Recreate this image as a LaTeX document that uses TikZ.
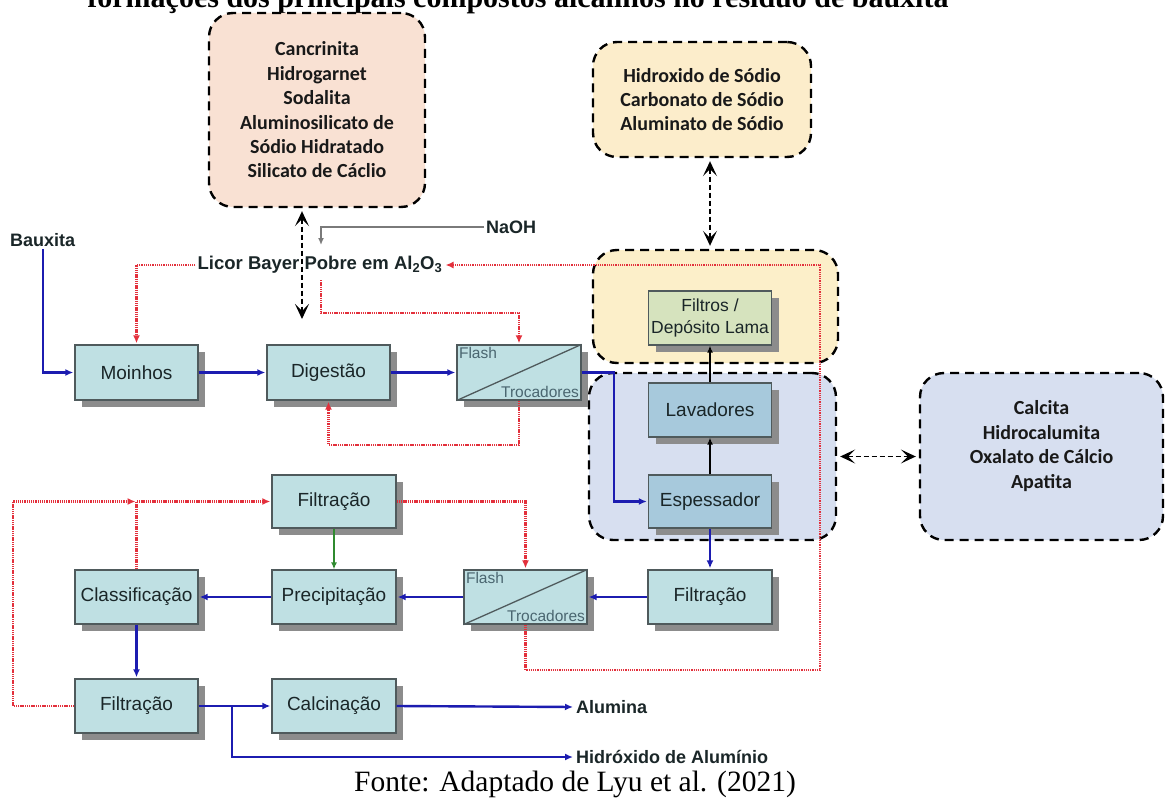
\documentclass[tikz,border=0pt]{standalone}
\usepackage{fontspec}
\setmainfont{Liberation Sans}
\newfontfamily\calib{Carlito}
\newfontfamily\timesf{Liberation Serif}
\usetikzlibrary{arrows.meta,shadows}
\definecolor{boxfill}{HTML}{BFE0E3}
\definecolor{boxline}{HTML}{4F5A5C}
\definecolor{shadowc}{HTML}{8C8C8C}
\definecolor{washfill}{HTML}{A7C9DC}
\definecolor{filtfill}{HTML}{D6E3BE}
\definecolor{flowblue}{HTML}{1C1CB0}
\definecolor{recycred}{HTML}{E3303C}
\definecolor{peach}{HTML}{F9E1D3}
\definecolor{cream}{HTML}{FCEDCB}
\definecolor{lightyel}{HTML}{FCEFC9}
\definecolor{lightblu}{HTML}{D7DFF0}
\definecolor{grn}{HTML}{2F8A2F}
\definecolor{naohgray}{HTML}{7A7A7A}
\definecolor{labtext}{HTML}{1A2628}
\definecolor{flashtext}{HTML}{4A6670}
\tikzset{
  proc/.style={draw=boxline, line width=1.3pt, fill=boxfill, minimum width=123pt,
    minimum height=55pt, inner sep=0pt, text=labtext, font=\fontsize{19}{22}\selectfont,
    drop shadow={shadow xshift=7pt, shadow yshift=-7pt, fill=shadowc, opacity=1}},
  group/.style={draw=black, line width=2.4pt, dash pattern=on 9pt off 6pt, rounded corners=24pt, inner sep=0pt},
  mineral/.style={align=center, text=black!90, font=\calib\bfseries\fontsize{20}{24.4}\selectfont},
  flow/.style={draw=flowblue, line width=2.4pt, -{Latex[length=8pt,width=7pt]}, shorten >=1pt},
  blackflow/.style={draw=black, line width=2pt, -{Latex[length=7pt,width=6pt]}},
  rec/.style={draw=recycred, line width=2.1pt, dash pattern=on 1.3pt off 0.9pt, -{Latex[length=8pt,width=7pt]}, shorten >=1pt},
  exch/.style={draw=black, line width=1.2pt, dash pattern=on 5pt off 3pt,
    {Stealth[length=15pt,width=14pt,inset=7pt]}-{Stealth[length=15pt,width=14pt,inset=7pt]}, shorten <=3pt, shorten >=3pt},
  lbl/.style={font=\bfseries\fontsize{18}{21}\selectfont, text=labtext, inner sep=2pt},
  flashlbl/.style={font=\fontsize{15.5}{17}\selectfont, text=flashtext, inner sep=2.5pt}
}
\begin{document}
\begin{tikzpicture}[x=1pt,y=-1pt]
\useasboundingbox (0,0) rectangle (1167,800);
\fill[white] (0,0) rectangle (1167,800);
% title (cut at top, as in the reference)
\begin{scope}
\clip (0,0) rectangle (1167,800);
\node[anchor=base, inner sep=0pt, font=\timesf\bfseries\fontsize{30}{33}\selectfont] (title) at (518,8)
  {formações dos principais compostos alcalinos no resíduo de bauxita};
\end{scope}
% group containers
\node[group, fill=peach, minimum width=216pt, minimum height=194pt, mineral] (cancr) at (317,110)
  {Cancrinita\\Hidrogarnet\\Sodalita\\Aluminosilicato de\\Sódio Hidratado\\Silicato de Cáclio};
\node[group, fill=cream, minimum width=218pt, minimum height=115pt, mineral] (hidrox) at (702,99.5)
  {Hidroxido de Sódio\\Carbonato de Sódio\\Aluminato de Sódio};
\node[group, fill=lightblu, minimum width=243pt, minimum height=167pt] (calcbox) at (1041.5,456.5) {};
\node[mineral] (calctxt) at (1041.5,446) {Calcita\\Hidrocalumita\\Oxalato de Cálcio\\Apatita};
\node[group, fill=lightyel, minimum width=245pt, minimum height=113pt] (yel) at (715.5,306.5) {};
\node[group, fill=lightblu, minimum width=247pt, minimum height=167pt] (blu) at (712.5,456.5) {};
% text labels
\node[lbl, anchor=west] (baux) at (8,240) {Bauxita};
\node[lbl, anchor=west] (naoh) at (484,227) {NaOH};
\node[lbl, font=\bfseries\fontsize{18.5}{21}\selectfont] (licor) at (320,265) {Licor Bayer Pobre em Al\textsubscript{2}O\textsubscript{3}};
\node[lbl, anchor=west] (alum) at (574,707) {Alumina};
\node[lbl, anchor=west] (hid) at (574,757) {Hidróxido de Alumínio};
\node[anchor=base, inner sep=0pt, font=\timesf\fontsize{29.5}{32}\selectfont] (fonte) at (575,791)
  {Fonte: Adaptado de Lyu et al. (2021)};
% process boxes
\node[proc] (moinhos) at (136.5,372.5) {Moinhos};
\node[proc] (digest) at (328.5,372.5) {Digestão};
\node[proc, minimum width=124pt] (f1) at (519,372.5) {};
\node[proc, fill=filtfill, minimum height=54pt, align=center, font=\fontsize{17.5}{22}\selectfont] (filtros) at (710,318) {Filtros /\\Depósito Lama};
\node[proc, fill=washfill, minimum height=54pt] (lavad) at (710,410) {Lavadores};
\node[proc, fill=washfill, minimum height=53pt] (espess) at (710,501.5) {Espessador};
\node[proc, minimum width=124pt, minimum height=53pt] (filtt) at (334,501.5) {Filtração};
\node[proc, minimum height=54pt] (classif) at (136.5,597) {Classificação};
\node[proc, minimum width=124pt, minimum height=54pt] (precip) at (334,597) {Precipitação};
\node[proc, minimum width=123pt, minimum height=54pt] (f2) at (525.5,597) {};
\node[proc, minimum width=124pt, minimum height=54pt] (filtr) at (710,597) {Filtração};
\node[proc, minimum height=54pt] (filtb) at (136.5,706) {Filtração};
\node[proc, minimum width=124pt, minimum height=54pt] (calc) at (334,706) {Calcinação};
% flash / trocadores decorations
\foreach \f in {f1,f2}{
  \draw[draw=boxline, line width=1.3pt] (\f.south west) -- (\f.north east);
  \node[flashlbl, anchor=north west] at (\f.north west) {Flash};
  \node[flashlbl, anchor=south east] at (\f.south east) {Trocadores};
}
% coordinates for free ends / bends
\coordinate (j1) at (614,372.5);
\coordinate (j2) at (232,706);
\coordinate (n1) at (321,245);
\coordinate (r2) at (321,280);
\coordinate (r3) at (321,313);
\coordinate (yr4) at (0,445);
\coordinate (rr) at (820,670);
\coordinate (lx) at (13,0);
\coordinate (e1) at (302,322);
% main blue flows
\draw[flow] (baux.south) |- (moinhos.west);
\draw[flow] (moinhos.east) -- (digest.west);
\draw[flow] (digest.east) -- (f1.west);
\draw[flow] (f1.east) -- (j1) |- (espess.west);
\draw[flow] (espess.south) -- (filtr.north);
\draw[flow] (filtr.west) -- (f2.east);
\draw[flow] (f2.west) -- (precip.east);
\draw[flow] (precip.west) -- (classif.east);
\draw[flow] (classif.south) -- (filtb.north);
\draw[flow] (filtb.east) -- (calc.west);
\draw[flow] (j2) |- (hid.west);
\draw[flow] (calc.east) -- (alum.west);
\draw[blackflow] (espess.north) -- (lavad.south);
\draw[blackflow] (lavad.north) -- (filtros.south);
\draw[draw=grn, line width=1.8pt, -{Latex[length=7pt,width=6pt]}] (filtt.south) -- (precip.north);
% NaOH feed
\draw[draw=naohgray, line width=1.6pt, -{Latex[length=7pt,width=6pt]}] (naoh.west) -| (n1);
% recycle streams (red dotted)
\draw[rec] (licor.west) -| (moinhos.north);
\draw[rec] (r2) -- (r3) -| (f1.north);
\draw[rec] (f1.south) -- (f1.south |- yr4) -| (digest.south);
\draw[rec] (f2.south) |- (rr) -- (rr |- licor.east) -- (licor.east);
\draw[rec] (filtt.east) -| (f2.north);
\draw[rec] (filtb.west) -- (filtb.west -| lx) |- (classif.north |- filtt.west);
\draw[rec] (classif.north) -- (classif.north |- filtt.west) -- (filtt.west);
% exchanges (dashed double arrows)
\draw[exch] (cancr.south -| e1) -- (e1);
\draw[exch] (hidrox.south -| espess) -- (yel.north -| espess);
\draw[exch] (blu.east) -- (calcbox.west);
\end{tikzpicture}
\end{document}
